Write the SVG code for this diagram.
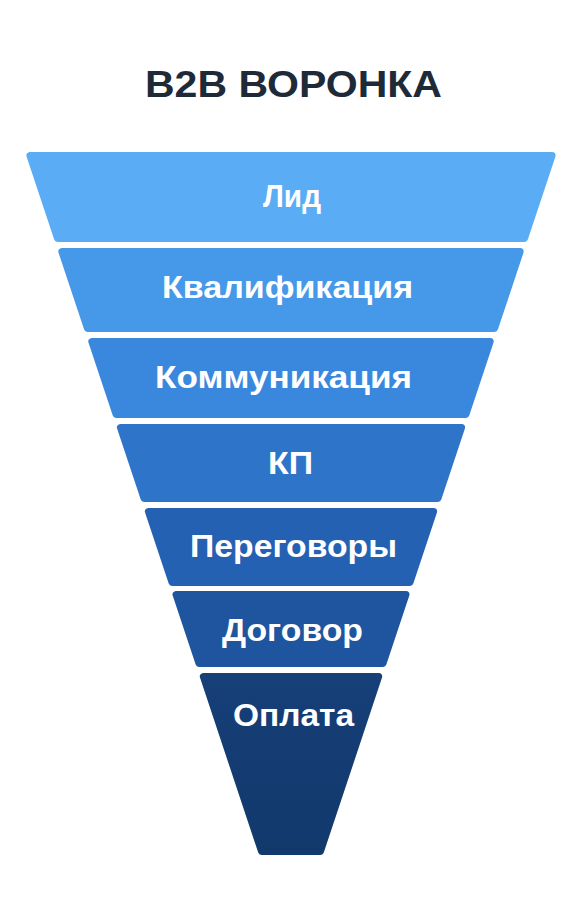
<svg xmlns="http://www.w3.org/2000/svg" width="583" height="900" viewBox="0 0 583 900">
<style>
.lyr{stroke-width:7;stroke-linejoin:round}
.lbl{font-family:"Liberation Sans",Arial,sans-serif;font-weight:bold;font-size:32px;fill:#ffffff;text-anchor:middle}
.ttl{font-family:"Liberation Sans",Arial,sans-serif;font-weight:bold;font-size:36px;fill:#1e2a38;text-anchor:middle}
</style>
<defs>
<linearGradient id="g7" x1="0" y1="0" x2="0" y2="1"><stop offset="0" stop-color="#173f78"/><stop offset="1" stop-color="#11396c"/></linearGradient>
</defs>
<rect width="583" height="900" fill="#ffffff"/>
<text class="ttl" x="293.5" y="97" textLength="297" lengthAdjust="spacingAndGlyphs">B2B ВОРОНКА</text>
<g id="connectors"></g>
<g id="n1"><polygon class="lyr" fill="#5aadf5" stroke="#5aadf5" points="29.86,155.5 552.14,155.5 524.51,238.5 57.49,238.5"/><text class="lbl" x="292" y="207" textLength="58" lengthAdjust="spacingAndGlyphs">Лид</text></g>
<g id="n2"><polygon class="lyr" fill="#4698e8" stroke="#4698e8" points="61.82,251.5 520.18,251.5 494.55,328.5 87.45,328.5"/><text class="lbl" x="287.5" y="298" textLength="251" lengthAdjust="spacingAndGlyphs">Квалификация</text></g>
<g id="n3"><polygon class="lyr" fill="#3a88de" stroke="#3a88de" points="91.78,341.5 490.22,341.5 465.92,414.5 116.08,414.5"/><text class="lbl" x="283.5" y="388" textLength="257" lengthAdjust="spacingAndGlyphs">Коммуникация</text></g>
<g id="n4"><polygon class="lyr" fill="#2e74c9" stroke="#2e74c9" points="120.41,427.5 461.59,427.5 437.96,498.5 144.04,498.5"/><text class="lbl" x="290.5" y="474" textLength="45" lengthAdjust="spacingAndGlyphs">КП</text></g>
<g id="n5"><polygon class="lyr" fill="#2561b3" stroke="#2561b3" points="148.37,511.5 433.63,511.5 409.99,582.5 172.01,582.5"/><text class="lbl" x="293.5" y="557" textLength="207" lengthAdjust="spacingAndGlyphs">Переговоры</text></g>
<g id="n6"><polygon class="lyr" fill="#1f559f" stroke="#1f559f" points="176,594.5 406,594.5 383.03,663.5 198.97,663.5"/><text class="lbl" x="292.5" y="641" textLength="141" lengthAdjust="spacingAndGlyphs">Договор</text></g>
<g id="n7"><polygon class="lyr" fill="url(#g7)" stroke="url(#g7)" points="203.3,676.5 378.7,676.5 320.47,851.5 261.53,851.5"/><text class="lbl" x="293.5" y="726" textLength="121" lengthAdjust="spacingAndGlyphs">Оплата</text></g>
</svg>
